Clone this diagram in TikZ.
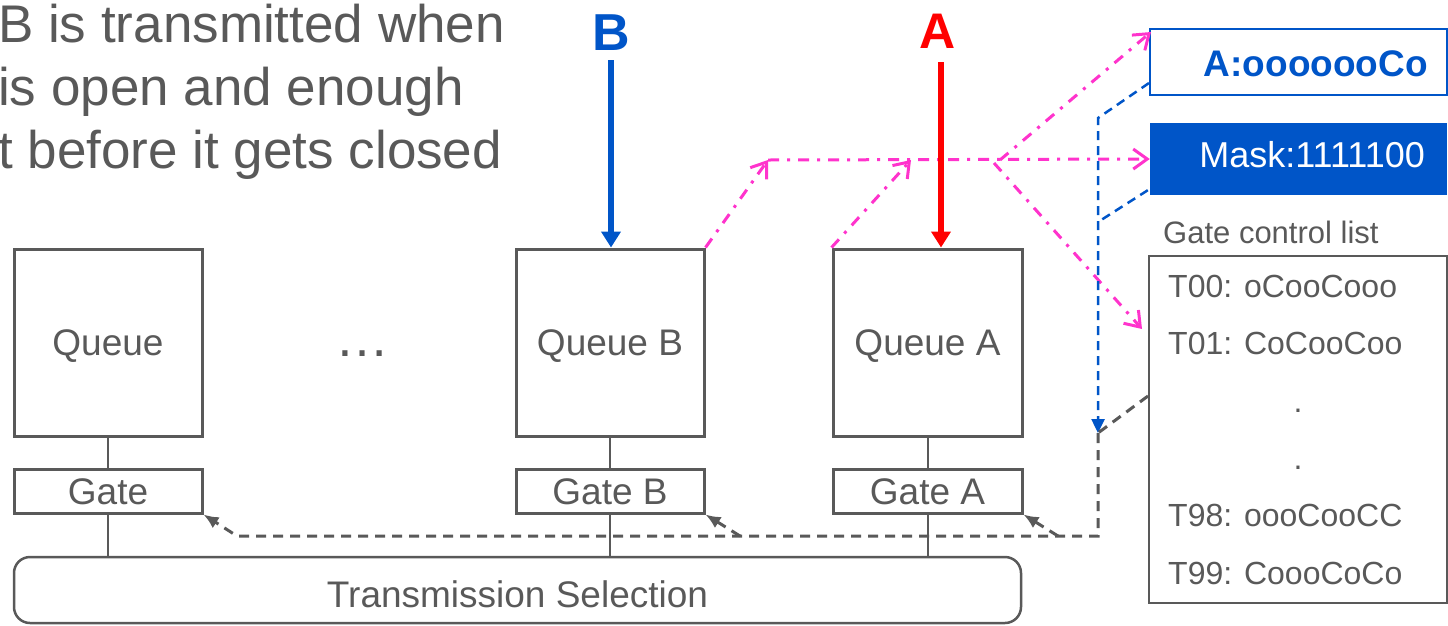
\documentclass[tikz,border=0pt]{standalone}
\usepackage{fontspec}
\setmainfont{Liberation Sans}
\usetikzlibrary{arrows.meta,calc}
\definecolor{txtgray}{RGB}{89,89,89}
\definecolor{linkblue}{RGB}{0,85,200}
\definecolor{pinkline}{RGB}{255,51,204}
\newcommand{\setpx}[1]{\fontsize{#1pt}{#1pt}\selectfont}
\begin{document}
\begin{tikzpicture}[x=1pt,y=-1pt,
  txt/.style={text=txtgray, inner sep=0pt},
  box/.style={draw=txtgray, line width=3pt, minimum width=188pt, inner sep=0pt,
    text=txtgray, font=\setpx{37}, text height=26.5pt, text depth=0pt},
  queuebox/.style={box, minimum height=187pt},
  gatebox/.style={box, minimum height=44pt},
  link/.style={draw=txtgray, line width=2pt},
  feedback/.style={draw=txtgray, line width=3pt, dash pattern=on 10pt off 7pt,
    -{Latex[length=15pt,width=13pt]}},
  feedplain/.style={draw=txtgray, line width=3pt, dash pattern=on 10pt off 7pt},
  pinkflow/.style={draw=pinkline, line width=3pt,
    dash pattern=on 11pt off 8pt on 3pt off 8pt,
    -{Straight Barb[length=14pt,width=20pt]}},
  bluedash/.style={draw=linkblue, line width=2.5pt, dash pattern=on 9pt off 6pt},
  framearrow/.style={line width=5.5pt, -{Triangle[length=16pt,width=19pt]}},
  entry/.style={txt, font=\setpx{32}, anchor=base west}
]
\useasboundingbox (0,0) rectangle (1448,625);

% explanatory text
\node[txt, font=\setpx{53}, anchor=base west] (note1) at (-2,42) {B is transmitted when};
\node[txt, font=\setpx{53}, anchor=base west] (note2) at (-2,105) {is open and enough};
\node[txt, font=\setpx{53}, anchor=base west] (note3) at (-2,168) {t before it gets closed};

% queues and gates
\node[queuebox] (q)  at (108,342.5) {Queue};
\node[queuebox] (qb) at (610,342.5) {Queue B};
\node[queuebox, minimum width=189pt] (qa) at (927.5,342.5) {Queue A};
\node[txt, font=\setpx{54}, anchor=base] (more) at (362,356) {…};
\node[gatebox] (g)  at (108,491) {Gate};
\node[gatebox] (gb) at (610,491) {Gate B};
\node[gatebox, minimum width=189pt] (ga) at (927.5,491) {Gate A};

% transmission selection
\node[draw=txtgray, line width=2.5pt, rounded corners=16pt,
  minimum width=1007pt, minimum height=66pt] (ts) at (517.5,590) {};
\node[txt, font=\setpx{37}, anchor=base] (tstext) at (517.5,607) {Transmission Selection};

\draw[link] (q.south) -- (g.north);
\draw[link] (qb.south) -- (gb.north);
\draw[link] (qa.south) -- (ga.north);
\draw[link] (g.south) -- (g.south |- ts.north);
\draw[link] (gb.south) -- (gb.south |- ts.north);
\draw[link] (ga.south) -- (ga.south |- ts.north);

% gate state boxes
\node[draw=linkblue, line width=2pt, fill=white, minimum width=297pt,
  minimum height=66pt, inner sep=0pt] (abox) at (1298.5,62) {};
\node[anchor=base east, font=\bfseries\setpx{37}, text=linkblue, inner sep=0pt]
  (aboxtext) at (1428,76) {A:ooooooCo};
\node[fill=linkblue, minimum width=297pt, minimum height=72pt, inner sep=0pt]
  (mask) at (1298.5,159) {};
\node[anchor=base east, font=\setpx{36}, text=white, inner sep=0pt]
  (masktext) at (1425,167) {Mask:1111100};

% gate control list
\node[txt, font=\setpx{31}, anchor=base west] (gcltitle) at (1163,243) {Gate control list};
\node[draw=txtgray, line width=2pt, minimum width=298pt, minimum height=347pt,
  inner sep=0pt] (gcl) at (1298,429.5) {};
\node[entry] (t00) at (1168,297) {T00: oCooCooo};
\node[entry] (t01) at (1168,354) {T01: CoCooCoo};
\node[txt, font=\setpx{32}, anchor=base] (dot1) at (1298,412) {.};
\node[txt, font=\setpx{32}, anchor=base] (dot2) at (1298,469) {.};
\node[entry] (t98) at (1168,526) {T98: oooCooCC};
\node[entry] (t99) at (1168,584) {T99: CoooCoCo};

% pink flow of gate states
\coordinate (pk1) at (768,160);
\coordinate (pk2) at (911,160);
\coordinate (pk3) at (1000,160);
\coordinate (pk4) at (994,163);
\draw[pinkflow] (qb.north east) -- (pk1);
\draw[pinkflow] (qa.north west) -- (pk2);
\draw[pinkflow] (pk1) -- (mask.west);
\draw[pinkflow] (pk3) -- ($(abox.north west)+(2,4)$);
\draw[pinkflow] (pk4) -- ($(gcl.north west)+(-6,74)$);

% blue dashed merge
\coordinate (bjoin)  at (1098,118);
\coordinate (bjoin2) at (1098,222);
\coordinate (bend)   at (1098,433);
\draw[bluedash, -{Triangle[length=14pt,width=13pt]}]
  ($(abox.south west)+(0,-13)$) -- (bjoin) -- (bend);
\draw[bluedash] ($(mask.south west)+(-2,-5)$) -- (bjoin2);

% gray feedback to gates
\coordinate (fbcorner) at (1098,536);
\coordinate (fbleft) at (237,536);
\coordinate (fba) at (1058,536);
\coordinate (fbb) at (740,536);
\draw[feedplain] ($(gcl.north west)+(0,141)$) -- (bend);
\draw[feedback] (bend) -- (fbcorner) -- (fbleft) -- (g.south east);
\draw[feedback] (fba) -- (ga.south east);
\draw[feedback] (fbb) -- (gb.south east);

% incoming frames
\node[font=\bfseries\setpx{52}, text=linkblue, anchor=base, inner sep=0pt] (lb) at (611,50) {B};
\node[font=\bfseries\setpx{50}, text=red, anchor=base, inner sep=0pt] (la) at (938,48) {A};
\coordinate (btail) at (611,60);
\coordinate (atail) at (941,62);
\draw[framearrow, linkblue] (btail) -- (btail |- qb.north);
\draw[framearrow, red] (atail) -- (atail |- qa.north);
\end{tikzpicture}
\end{document}
